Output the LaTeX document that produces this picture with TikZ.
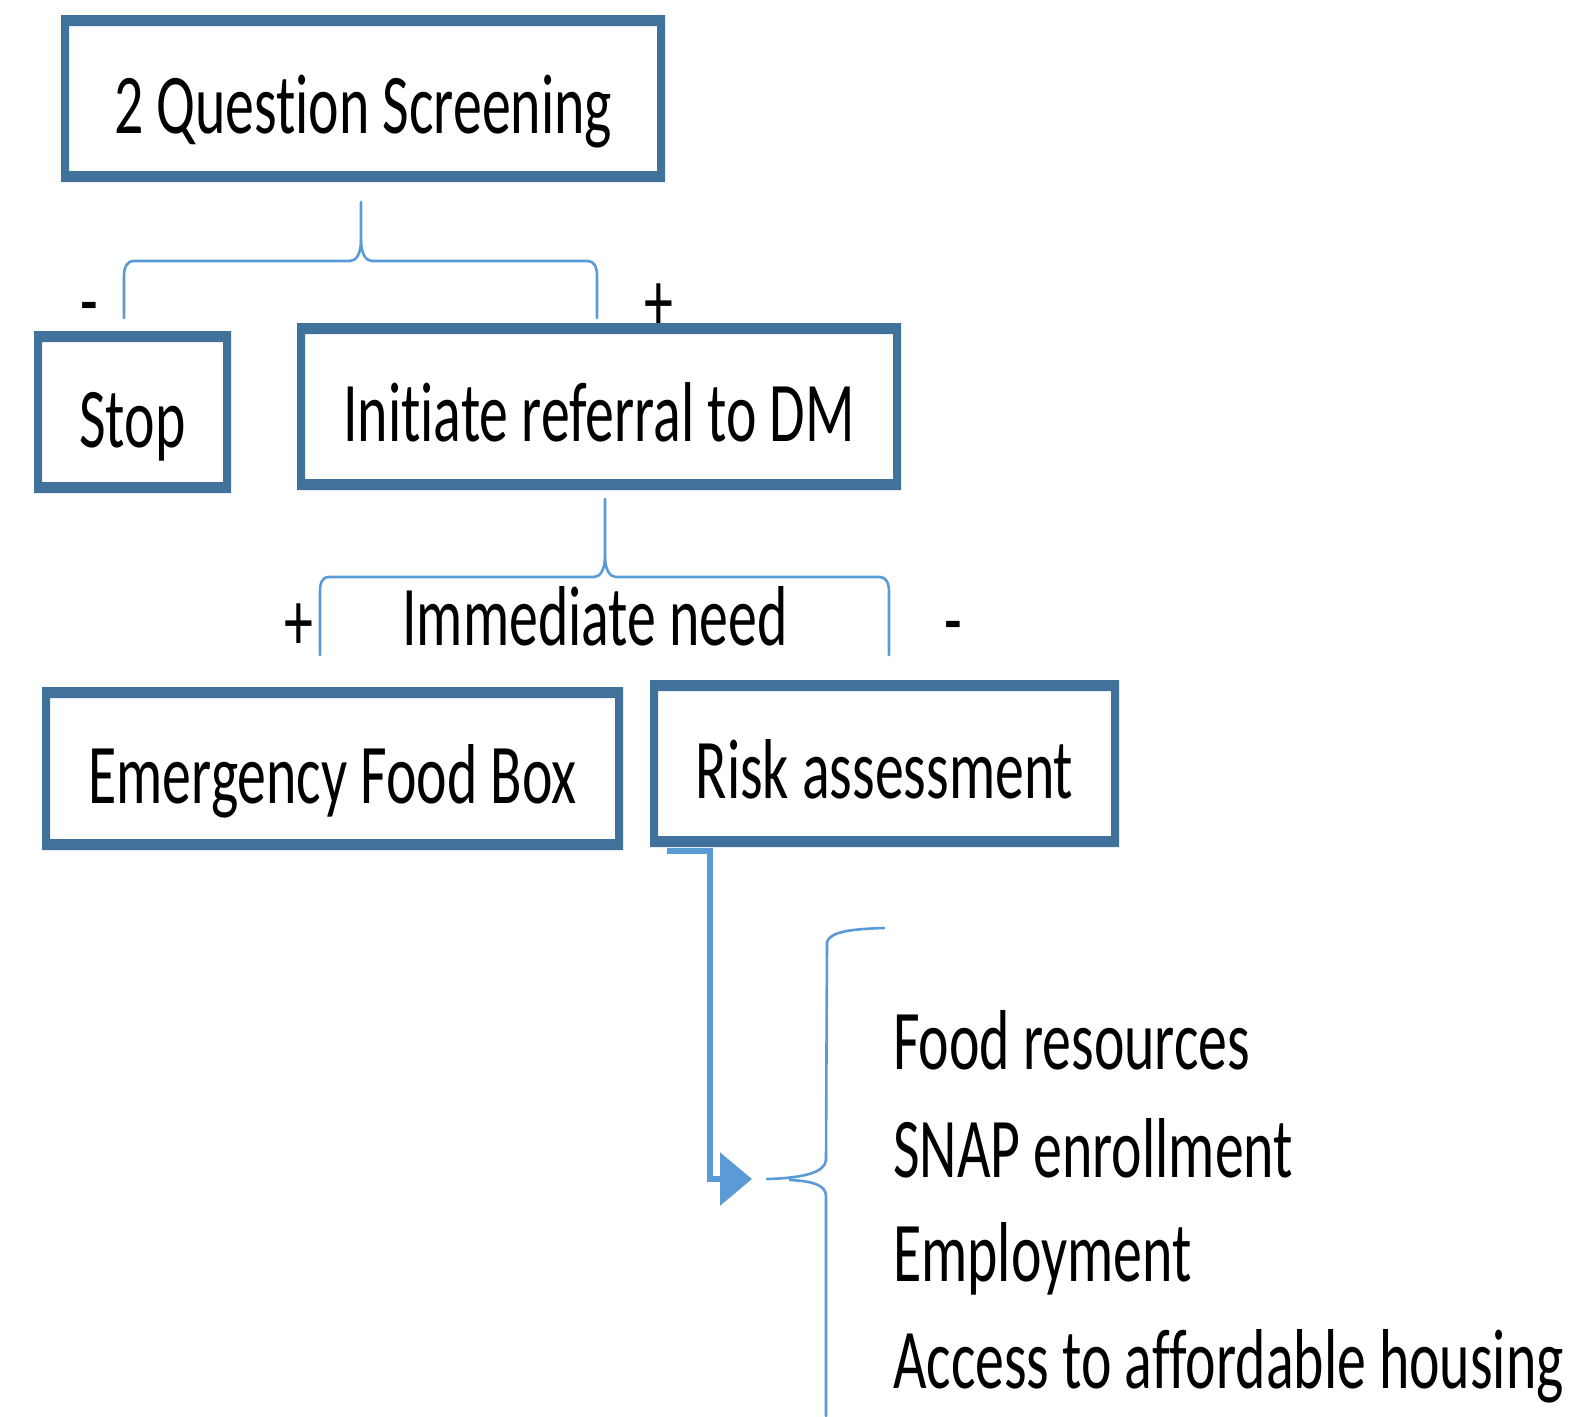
\documentclass[tikz,border=0pt]{standalone}
\usepackage{fontspec}
\setmainfont[FakeStretch=0.68, Ligatures={NoCommon}]{Carlito}
\usetikzlibrary{arrows.meta}
\definecolor{boxblue}{RGB}{65,114,156}
\definecolor{lineblue}{RGB}{91,155,213}
\tikzset{
  framebox/.style={draw=none, fill=white, inner sep=0pt, text height=70pt, text depth=0pt,
    font=\fontsize{85}{100}\selectfont,
    path picture={\fill[boxblue, even odd rule]
      (path picture bounding box.south west) rectangle (path picture bounding box.north east)
      ([shift={(8pt,11pt)}]path picture bounding box.south west) rectangle
      ([shift={(-8pt,-11pt)}]path picture bounding box.north east);}},
  lbl/.style={inner sep=0pt, anchor=base, font=\fontsize{85}{100}\selectfont},
  listitem/.style={inner sep=0pt, anchor=base west, font=\fontsize{85}{100}\selectfont},
  brace/.style={draw=lineblue, line width=2.6pt, line cap=round, line join=round},
  conn/.style={draw=lineblue, line width=6pt, line join=miter, -{Triangle[length=32pt,width=52pt]}}
}
\begin{document}
\begin{tikzpicture}[x=1pt,y=-1pt]
\useasboundingbox (0,0) rectangle (1571,1416);
% boxes
\node[framebox, minimum width=604pt, minimum height=167pt] (screen) at (363,98.5) {2 Question Screening};
\node[framebox, minimum width=197pt, minimum height=162pt] (stop) at (132.5,412) {Stop};
\node[framebox, minimum width=604pt, minimum height=167pt] (refer) at (599,406.5) {Initiate referral to DM};
\node[framebox, minimum width=581pt, minimum height=163pt] (efb) at (332.5,768.5) {Emergency Food Box};
\node[framebox, minimum width=469pt, minimum height=167pt] (risk) at (884.5,763.5) {Risk assessment};
% braces
\draw[brace] (124,318) -- (124,276) .. controls (124,267) and (127,261) .. (134,261) -- (350,261)
   .. controls (356,261) and (361,254) .. (361,240) -- (361,202);
\draw[brace] (361,240) .. controls (361,254) and (366,261) .. (372,261) -- (588,261)
   .. controls (594,261) and (597,267) .. (597,276) -- (597,318);
\draw[brace] (320,655) -- (320,592) .. controls (320,583) and (322,577) .. (329,577) -- (594,577)
   .. controls (600,577) and (605,570) .. (605,556) -- (605,499);
\draw[brace] (605,556) .. controls (605,570) and (610,577) .. (616,577) -- (880,577)
   .. controls (886,577) and (889,583) .. (889,592) -- (889,655);
\draw[brace] (884,928) .. controls (850,929) and (830,932) .. (827,942) -- (826,1160)
   .. controls (825,1172) and (805,1178) .. (767,1179);
\draw[brace] (790,1180) .. controls (812,1181) and (826,1185) .. (826,1196) -- (826,1416);
% connector
\coordinate (bend) at (710,1179);
\coordinate (atip) at (752,1179);
\draw[conn] ([shift={(17pt,-4pt)}]risk.south west) -| (bend) -- (atip);
% labels
\node[lbl] (m1) at (89.5,329) {-};
\node[lbl] (p1) at (659,330) {+};
\node[lbl] (p2) at (298.5,650) {+};
\node[lbl] (m2) at (953.5,648) {-};
\node[lbl] (need) at (595,645) {Immediate need};
% list
\node[listitem] (l1) at (893,1069) {Food resources};
\node[listitem] (l2) at (893,1177) {SNAP enrollment};
\node[listitem] (l3) at (893,1281) {Employment};
\node[listitem] (l4) at (893,1388) {Access to affordable housing};
\end{tikzpicture}
\end{document}
